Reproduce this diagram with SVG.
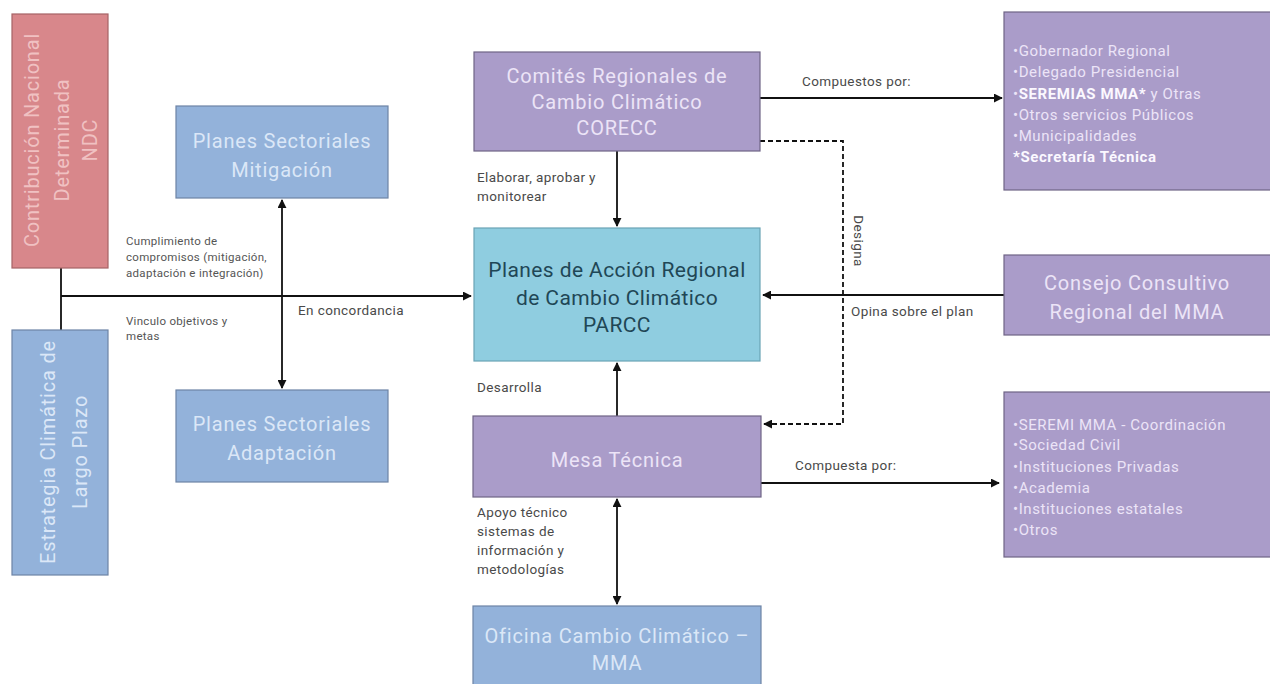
<svg xmlns="http://www.w3.org/2000/svg" width="1270" height="684" viewBox="0 0 1270 684">
<defs>
<marker id="ah" viewBox="0 0 10 10" refX="9" refY="5" markerWidth="5" markerHeight="5" orient="auto-start-reverse">
<path d="M0,0 L10,5 L0,10 z" fill="#111"/>
</marker>
<style>
.t{font-family:"Roboto","Liberation Sans",sans-serif;}
.lbl{font-family:"Roboto","Liberation Sans",sans-serif;font-size:13.5px;letter-spacing:0.4px;fill:#4a4a4a;}
.sm{font-family:"Roboto","Liberation Sans",sans-serif;font-size:11.5px;letter-spacing:0.3px;fill:#555;}
.pur{fill:#aa9cc9;stroke:#6f6486;stroke-width:1.2;}
.blu{fill:#93b2da;stroke:#6d84a6;stroke-width:1.2;}
.ptxt{fill:#ece4f7;font-size:20px;letter-spacing:0.8px;text-anchor:middle;}
.btxt{fill:#dbe7f7;font-size:20px;letter-spacing:0.8px;text-anchor:middle;}
.list{fill:#ece4f7;font-size:15px;letter-spacing:0.6px;}
.c{stroke:#111;stroke-width:1.8;fill:none;}
</style>
</defs>
<rect width="1270" height="684" fill="#ffffff"/>

<g id="connectors">
<line class="c" x1="61" y1="268" x2="61" y2="330"/>
<line class="c" x1="61" y1="296" x2="471" y2="296" marker-end="url(#ah)"/>
<line class="c" x1="282" y1="200" x2="282" y2="388" marker-start="url(#ah)" marker-end="url(#ah)"/>
<line class="c" x1="617" y1="151" x2="617" y2="226" marker-end="url(#ah)"/>
<line class="c" x1="617" y1="416" x2="617" y2="363" marker-end="url(#ah)"/>
<line class="c" x1="617" y1="499" x2="617" y2="604" marker-start="url(#ah)" marker-end="url(#ah)"/>
<line class="c" x1="760" y1="98" x2="1002" y2="98" marker-end="url(#ah)"/>
<line class="c" x1="1004" y1="295" x2="763" y2="295" marker-end="url(#ah)"/>
<line class="c" x1="761" y1="483" x2="999" y2="483" marker-end="url(#ah)"/>
<polyline class="c" points="760,141 843,141 843,424 764,424" stroke-dasharray="5,3" marker-end="url(#ah)"/>
</g>

<g id="ndc">
<rect x="12" y="14" width="96" height="254" fill="#d8878b" stroke="#a66366" stroke-width="1.2"/>
<g class="t" fill="#f0c1c2" font-size="20" letter-spacing="0.8" text-anchor="middle" transform="translate(60,140) rotate(-90)">
<text x="0" y="-21">Contribución Nacional</text>
<text x="0" y="9">Determinada</text>
<text x="0" y="37">NDC</text>
</g>
</g>

<g id="elp">
<rect x="12" y="330" width="96" height="245" class="blu"/>
<g class="t btxt" transform="translate(60,452) rotate(-90)">
<text x="0" y="-5">Estrategia Climática de</text>
<text x="0" y="27">Largo Plazo</text>
</g>
</g>

<g id="mitigacion">
<rect x="176" y="106" width="212" height="92" class="blu"/>
<text class="t btxt" x="282" y="148">Planes Sectoriales</text>
<text class="t btxt" x="282" y="177">Mitigación</text>
</g>

<g id="adaptacion">
<rect x="176" y="390" width="212" height="92" class="blu"/>
<text class="t btxt" x="282" y="431">Planes Sectoriales</text>
<text class="t btxt" x="282" y="460">Adaptación</text>
</g>

<g id="corecc">
<rect x="474" y="52" width="286" height="99" class="pur"/>
<text class="t ptxt" x="617" y="83">Comités Regionales de</text>
<text class="t ptxt" x="617" y="109">Cambio Climático</text>
<text class="t ptxt" x="617" y="135">CORECC</text>
</g>

<g id="parcc">
<rect x="474" y="228" width="286" height="133" fill="#8fcde0" stroke="#6aa3b5" stroke-width="1.2"/>
<g class="t" fill="#1f4756" font-size="21" letter-spacing="0.4" text-anchor="middle">
<text x="617" y="277">Planes de Acción Regional</text>
<text x="617" y="305">de Cambio Climático</text>
<text x="617" y="332">PARCC</text>
</g>
</g>

<g id="mesa">
<rect x="473" y="416" width="288" height="81" class="pur"/>
<text class="t ptxt" x="617" y="467">Mesa Técnica</text>
</g>

<g id="oficina">
<rect x="473" y="606" width="288" height="84" class="blu"/>
<text class="t btxt" x="617" y="643">Oficina Cambio Climático –</text>
<text class="t btxt" x="617" y="670">MMA</text>
</g>

<g id="miembros-corecc">
<rect x="1004" y="12" width="268" height="178" class="pur"/>
<g class="t list">
<text x="1013" y="56">•Gobernador Regional</text>
<text x="1013" y="77">•Delegado Presidencial</text>
<text x="1013" y="99">•<tspan font-weight="bold" fill="#fbf8ff">SEREMIAS MMA*</tspan> y Otras</text>
<text x="1013" y="120">•Otros servicios Públicos</text>
<text x="1013" y="141">•Municipalidades</text>
<text x="1013" y="162" font-weight="bold" fill="#fbf8ff">*Secretaría Técnica</text>
</g>
</g>

<g id="consejo">
<rect x="1004" y="255" width="268" height="80" class="pur"/>
<text class="t ptxt" x="1137" y="290">Consejo Consultivo</text>
<text class="t ptxt" x="1137" y="319">Regional del MMA</text>
</g>

<g id="miembros-mesa">
<rect x="1004" y="392" width="268" height="165" class="pur"/>
<g class="t list">
<text x="1013" y="430">•SEREMI MMA - Coordinación</text>
<text x="1013" y="450">•Sociedad Civil</text>
<text x="1013" y="472">•Instituciones Privadas</text>
<text x="1013" y="493">•Academia</text>
<text x="1013" y="514">•Instituciones estatales</text>
<text x="1013" y="535">•Otros</text>
</g>
</g>

<g id="labels">
<text class="sm" x="126" y="245">Cumplimiento de</text>
<text class="sm" x="126" y="261">compromisos (mitigación,</text>
<text class="sm" x="126" y="277">adaptación e integración)</text>
<text class="sm" x="126" y="325">Vinculo objetivos y</text>
<text class="sm" x="126" y="340">metas</text>
<text class="lbl" x="298" y="315">En concordancia</text>
<text class="lbl" x="477" y="182">Elaborar, aprobar y</text>
<text class="lbl" x="477" y="201">monitorear</text>
<text class="lbl" x="477" y="392">Desarrolla</text>
<text class="lbl" x="477" y="517">Apoyo técnico</text>
<text class="lbl" x="477" y="536">sistemas de</text>
<text class="lbl" x="477" y="555">información y</text>
<text class="lbl" x="477" y="574">metodologías</text>
<text class="lbl" x="802" y="86">Compuestos por:</text>
<text class="lbl" x="795" y="470">Compuesta por:</text>
<text class="lbl" x="851" y="316">Opina sobre el plan</text>
<text class="lbl" transform="translate(854,241) rotate(90)" text-anchor="middle">Designa</text>
</g>
</svg>
